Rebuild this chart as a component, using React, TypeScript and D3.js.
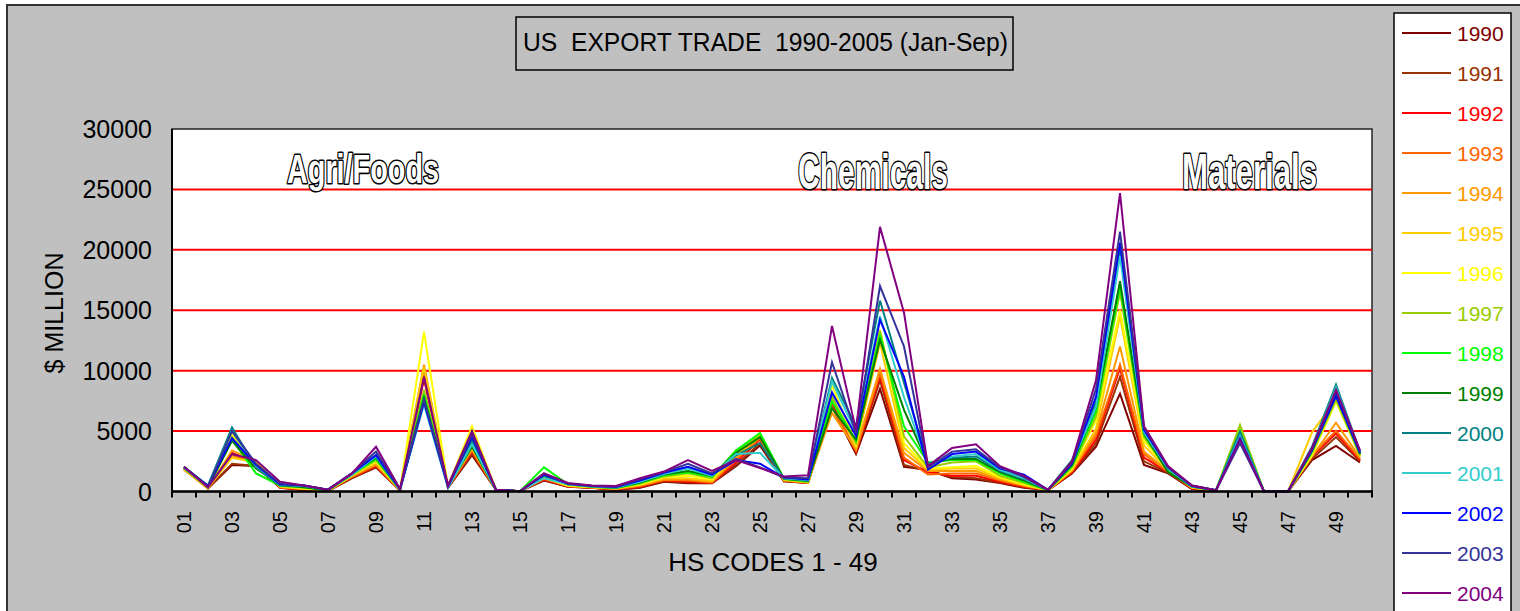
import React from "react";
import * as d3 from "d3";

const codes: string[] = Array.from({ length: 50 }, (_, i) => String(i + 1).padStart(2, "0"));
const tickLabels: string[] = codes.filter((_, i) => i % 2 === 0);
const years: string[] = ["1990","1991","1992","1993","1994","1995","1996","1997","1998","1999","2000","2001","2002","2003","2004"];
const colors: string[] = ["#800000","#993300","#FF0000","#FF6600","#FF9900","#FFCC00","#FFFF00","#99CC00","#00FF00","#008000","#008080","#33CCCC","#0000FF","#333399","#800080"];
const yTicks: number[] = [0, 5000, 10000, 15000, 20000, 25000, 30000];

// values per HS code (rows) for years 1990..2004 (columns)
const c01 = [1900,1950,1850,1900,1800,1900,2000,2000,1950,2000,2050,2000,2000,2050,2050];
const c02 = [250,250,300,300,250,300,350,400,350,350,500,400,450,400,350];
const c03 = [2200,2300,3200,3000,3400,2800,4700,4500,4300,4200,5300,5000,4400,5000,3100];
const c04 = [2100,2100,2300,2400,2500,2400,2200,2100,1500,1900,2000,2100,2200,2300,2600];
const c05 = [300,350,300,400,350,400,450,450,500,550,500,600,600,650,800];
const c06 = [150,150,150,200,200,250,250,300,350,350,450,450,500,500,500];
const c07 = [50,50,50,60,60,80,80,100,100,100,150,150,150,150,150];
const c08 = [1100,1100,1200,1200,1300,1300,1400,1400,1400,1500,1500,1400,1500,1500,1500];
const c09 = [2000,2000,2100,2200,2200,2400,2500,2600,2700,2800,3000,2900,3000,3300,3700];
const c10 = [100,100,100,120,120,130,130,150,150,150,180,160,170,180,200];
const c11 = [9900,9500,9300,9800,10500,10300,13200,8400,8000,7700,7500,7200,7400,7600,9500];
const c12 = [300,300,350,350,400,400,450,450,400,400,500,300,400,450,500];
const c13 = [3000,3100,3300,3400,3500,3600,5400,4000,3800,3700,4200,3900,4500,4700,5000];
const c14 = [150,150,150,150,150,150,150,150,150,150,150,150,150,150,150];
const c15 = [20,20,20,20,20,20,20,20,20,20,20,20,20,20,20];
const c16 = [900,950,1000,1050,1100,1150,1200,1300,2000,1300,1300,1100,1400,1500,1500];
const c17 = [400,400,420,450,450,480,500,550,600,600,650,600,650,650,700];
const c18 = [300,300,320,330,350,350,380,400,400,420,450,420,450,450,500];
const c19 = [120,150,180,200,220,250,280,300,300,320,350,330,380,400,450];
const c20 = [310,350,400,450,500,550,600,650,700,750,850,800,900,1000,1100];
const c21 = [810,850,900,950,1000,1100,1200,1250,1350,1400,1600,1450,1550,1600,1650];
const c22 = [680,750,800,900,1000,1100,1300,1500,1600,1700,2000,1900,2050,2300,2600];
const c23 = [680,700,700,750,800,900,1000,1100,1200,1300,1400,1300,1400,1500,1700];
const c24 = [2100,2200,2400,2600,2800,3000,3300,3400,3400,3200,3000,3100,2600,2700,2600];
const c25 = [3800,4000,4300,4400,4500,4600,4700,4600,4850,4500,4000,3200,2300,2000,1950];
const c26 = [850,850,900,900,950,950,1000,1000,1050,1050,1100,1100,1150,1150,1250];
const c27 = [700,700,700,720,750,750,800,800,850,900,900,950,1000,1100,1350];
const c28 = [7000,7200,7300,7000,6500,7600,8800,7850,7450,6900,9400,9100,8200,10700,13700];
const c29 = [3100,3200,3300,3400,3500,3700,3900,4000,4200,4300,5400,4900,4600,4800,5100];
const c30 = [8500,9200,9500,9800,10150,12300,13400,13300,12950,12550,15800,14500,14200,17000,21900];
const c31 = [2050,2200,2600,2800,3200,3600,4000,4550,5400,6750,9000,7800,9500,12000,14800];
const c32 = [1800,1700,1600,1400,1700,1800,1900,2000,2400,2300,2300,2200,1800,2000,2100];
const c33 = [1100,1200,1300,1500,1700,1900,2000,2400,2600,2700,2800,2900,3100,3300,3600];
const c34 = [1000,1100,1300,1500,1700,1900,2100,2500,2600,2700,2900,3100,3300,3500,3900];
const c35 = [700,750,800,900,1000,1100,1200,1300,1500,1600,1700,1800,1900,2000,2100];
const c36 = [300,350,400,450,500,550,600,700,800,900,1000,1100,1400,1200,1300];
const c37 = [100,100,100,100,110,110,110,120,120,120,130,130,130,130,130];
const c38 = [1500,1550,1600,1700,1750,1800,1900,2000,2100,2200,2600,2400,2300,2400,2500];
const c39 = [3700,4000,4300,4600,4900,5200,5900,6200,6600,7000,7400,7000,7850,8500,9200];
const c40 = [8100,9500,10200,10500,12000,14500,15000,16500,17000,17400,20000,19500,20600,21500,24700];
const c41 = [2200,2500,2800,3100,3300,3800,4200,4500,4700,4800,5000,4900,5100,5300,5400];
const c42 = [1500,1550,1600,1650,1700,1750,1800,1800,1700,1600,1900,1900,2000,2000,2100];
const c43 = [200,250,250,300,300,350,350,400,450,400,450,400,450,500,500];
const c44 = [50,50,60,60,70,80,80,90,100,100,100,100,100,100,100];
const c45 = [4700,4800,5200,4900,5000,5100,5200,5500,5000,4700,4950,4600,4400,4000,4300];
const c46 = [0,0,0,0,0,0,0,0,0,0,0,0,0,0,0];
const c47 = [0,0,0,0,0,0,0,0,0,0,0,0,0,0,0];
const c48 = [2600,2700,2900,3000,2900,4900,3000,3200,3300,3400,3700,3500,3400,3500,3600];
const c49 = [3770,4500,4800,5000,5700,7600,7440,7600,8000,8200,8840,8600,7900,8300,8400];
const c50 = [2400,2500,2600,2700,2800,2900,3000,3000,3100,3100,3300,3200,3200,3300,3400];

const table: number[][] = [c01,c02,c03,c04,c05,c06,c07,c08,c09,c10,c11,c12,c13,c14,c15,c16,c17,c18,c19,c20,c21,c22,c23,c24,c25,c26,c27,c28,c29,c30,c31,c32,c33,c34,c35,c36,c37,c38,c39,c40,c41,c42,c43,c44,c45,c46,c47,c48,c49,c50];

const W = 1520, H = 611;
const PL = 172, PR = 1372, PT = 129, PB = 491.5;

export default function App() {
  const x = d3.scaleBand<string>().domain(codes).range([PL, PR]).paddingInner(0).paddingOuter(0);
  const y = d3.scaleLinear().domain([0, 30000]).range([PB, PT]);
  const bw = x.bandwidth();
  const cx = (c: string) => (x(c) as number) + bw / 2;

  const line = d3.line<number>()
    .x((_, i) => cx(codes[i]))
    .y((v) => y(v));

  const series = years.map((yr, s) => ({ yr, color: colors[s], values: table.map((row) => row[s]) }));

  const font = "'Liberation Sans', Arial, sans-serif";
  const narrow = "'Liberation Sans Narrow', 'Arial Narrow', 'Liberation Sans', Arial, sans-serif";

  const boundaries = codes.map((c) => x(c) as number).concat([PR]);
  const annotations = [
    { t: "Agri/Foods", x: 287, y: 183, fs: 40, w: 152 },
    { t: "Chemicals", x: 798, y: 189, fs: 50, w: 150 },
    { t: "Materials", x: 1182, y: 189, fs: 50, w: 135 },
  ];

  return (
    <svg width={W} height={H} style={{ position: "absolute", left: 0, top: 0 }} fontFamily={font}>
      <rect x={0} y={0} width={W} height={H} fill="#fff" />
      <rect x={7} y={5} width={W} height={H} fill="#C0C0C0" stroke="#333" strokeWidth={2} />
      {/* title */}
      <rect x={516} y={17} width={497} height={53} fill="none" stroke="#000" strokeWidth={1.5} />
      <text x={523} y={51} fontSize={25} textLength={485} lengthAdjust="spacingAndGlyphs" style={{ whiteSpace: "pre" }}>US  EXPORT TRADE  1990-2005 (Jan-Sep)</text>
      {/* plot area */}
      <rect x={PL} y={PT} width={PR - PL} height={PB - PT} fill="#fff" stroke="#222" strokeWidth={1.5} />
      {yTicks.filter((t) => t > 0 && t < 30000).map((t) => (
        <line key={t} x1={PL} x2={PR} y1={y(t)} y2={y(t)} stroke="#FF0000" strokeWidth={2} />
      ))}
      {/* series */}
      {series.map((s) => (
        <path key={s.yr} d={line(s.values) || ""} fill="none" stroke={s.color} strokeWidth={2} strokeLinejoin="miter" />
      ))}
      {/* category labels (outlined) */}
      <g opacity={0.995}>
        {annotations.map((d) => (
          <g key={d.t}>
            <text x={d.x} y={d.y} fontSize={d.fs} fontWeight="bold" fontFamily={narrow}
              textLength={d.w} lengthAdjust="spacingAndGlyphs" fill="#000" stroke="#000" strokeWidth={3.2} strokeLinejoin="round">{d.t}</text>
            <text x={d.x} y={d.y} fontSize={d.fs} fontWeight="bold" fontFamily={narrow}
              textLength={d.w} lengthAdjust="spacingAndGlyphs" fill="#fff">{d.t}</text>
          </g>
        ))}
      </g>
      {/* axes */}
      <line x1={PL} x2={PL} y1={PT} y2={PB} stroke="#000" strokeWidth={2} />
      <line x1={PL} x2={PR + 1} y1={PB} y2={PB} stroke="#000" strokeWidth={2.5} />
      {boundaries.map((b, i) => (
        <line key={i} x1={b} x2={b} y1={PB} y2={PB + 6} stroke="#000" strokeWidth={2} />
      ))}
      {yTicks.map((t) => (
        <text key={t} x={152} y={y(t)} dy="0.36em" fontSize={25} textAnchor="end">{t}</text>
      ))}
      {tickLabels.map((c) => (
        <text key={c} transform={`translate(${cx(c)},511) rotate(-90)`} dy="0.36em" fontSize={20} textAnchor="end">{c}</text>
      ))}
      <text transform="translate(63,313) rotate(-90)" fontSize={25} textAnchor="middle">$ MILLION</text>
      <text x={773} y={571} fontSize={26} textAnchor="middle">HS CODES 1 - 49</text>
      {/* legend */}
      <rect x={1394} y={13} width={117} height={620} fill="#fff" stroke="#000" strokeWidth={1.5} />
      {series.map((s, i) => (
        <g key={s.yr}>
          <line x1={1402} x2={1451} y1={33 + i * 40} y2={33 + i * 40} stroke={s.color} strokeWidth={2} />
          <text x={1457} y={33 + i * 40} dy="0.36em" fontSize={21} fill={s.color}>{s.yr}</text>
        </g>
      ))}
    </svg>
  );
}
